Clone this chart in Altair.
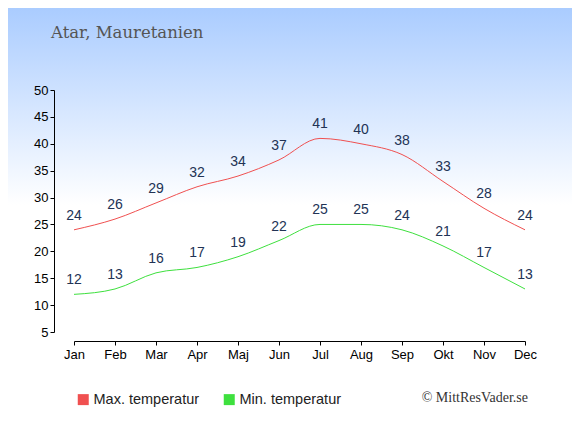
import altair as alt
import pandas as pd

months = ["Jan", "Feb", "Mar", "Apr", "Maj", "Jun", "Jul", "Aug", "Sep", "Okt", "Nov", "Dec"]
max_temp = [24, 26, 29, 32, 34, 37, 41, 40, 38, 33, 28, 24]
min_temp = [12, 13, 16, 17, 19, 22, 25, 25, 24, 21, 17, 13]
series_names = ["Max. temperatur", "Min. temperatur"]
series_colors = ["#f05050", "#3ee03e"]
y_ticks = [5, 10, 15, 20, 25, 30, 35, 40, 45, 50]

rows = []
for i, m in enumerate(months):
    rows.append({"month": m, "serie": series_names[0], "temp": max_temp[i]})
    rows.append({"month": m, "serie": series_names[1], "temp": min_temp[i]})
df = pd.DataFrame(rows)

W, H = 451, 242
PL, PT = 66, 82
TOTW, TOTH = 564, 419

x_enc = alt.X("month:N", sort=months,
              scale=alt.Scale(type="point", padding=0),
              axis=alt.Axis(title=None, labelAngle=0, offset=9, tickSize=4,
                            labelPadding=3, labelFontSize=13, labelColor="#000",
                            domainColor="#000", tickColor="#000", grid=False,
                            labelOverlap=False,
                            labelFont="Liberation Sans", zindex=1))
y_enc = alt.Y("temp:Q", scale=alt.Scale(domain=[5, 50], nice=False, zero=False),
              axis=alt.Axis(title=None, values=y_ticks, tickCount=len(y_ticks),
                            offset=20, tickSize=4,
                            labelPadding=2, labelFontSize=13, labelColor="#000",
                            domainColor="#000", tickColor="#000", grid=False,
                            labelOverlap=False,
                            labelFont="Liberation Sans", zindex=1))
color_enc = alt.Color("serie:N",
                      scale=alt.Scale(domain=series_names, range=series_colors),
                      legend=alt.Legend(title=None, orient="none", legendX=2, legendY=302,
                                        direction="horizontal", symbolType="square",
                                        symbolSize=4, symbolStrokeWidth=9,
                                        labelFontSize=14.5, labelColor="#222",
                                        labelFont="Liberation Sans",
                                        columnPadding=10, labelOffset=3))

bg = alt.Chart(alt.Data(values=[{}])).mark_rect(
    fill=alt.Gradient(gradient="linear",
                      stops=[alt.GradientStop(offset=0, color="#aaccff"),
                             alt.GradientStop(offset=0.47, color="#ffffff"),
                             alt.GradientStop(offset=1, color="#ffffff")],
                      x1=0, y1=0, x2=0, y2=1)
).encode(x=alt.value(-PL), x2=alt.value(TOTW - PL), y=alt.value(-PT), y2=alt.value(TOTH - PT))

lines = alt.Chart(df).mark_line(strokeWidth=1, interpolate="monotone").encode(
    x=x_enc, y=y_enc, color=color_enc)

labels = alt.Chart(df).mark_text(dy=-14, fontSize=14, color="#223355",
                                 font="Liberation Sans").encode(
    x=alt.X("month:N", sort=months), y="temp:Q", text="temp:Q")

title = alt.Chart(alt.Data(values=[{}])).mark_text(
    text="Atar, Mauretanien", font="DejaVu Serif", fontSize=16.5, color="#555555",
    align="left", baseline="alphabetic").encode(x=alt.value(-23), y=alt.value(-52))

copyright_ = alt.Chart(alt.Data(values=[{}])).mark_text(
    text="© MittResVader.se", font="Liberation Serif", fontSize=14, color="#333333",
    align="right", baseline="middle").encode(x=alt.value(454), y=alt.value(308))

chart = alt.layer(bg, lines, labels, title, copyright_).properties(
    width=W, height=H,
    autosize=alt.AutoSizeParams(type="none"),
    padding={"left": PL, "top": PT, "right": TOTW - PL - W, "bottom": TOTH - PT - H},
).configure_view(stroke="transparent")

chart.save("out.html", embed_options={"renderer": "svg", "actions": False})
